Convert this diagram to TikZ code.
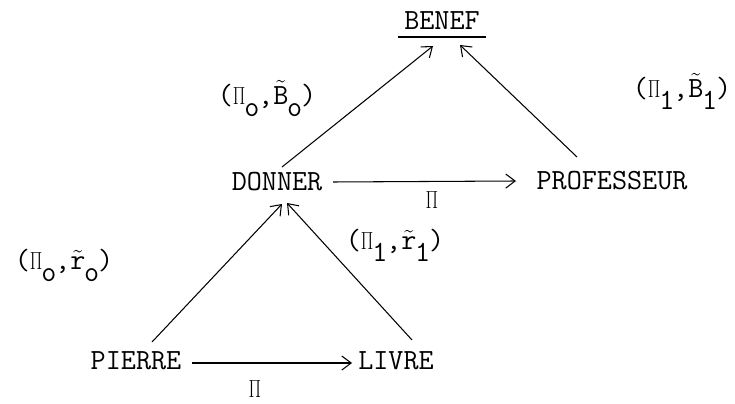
\documentclass[tikz,border=0pt]{standalone}
\usepackage{graphicx}
\usetikzlibrary{arrows.meta,positioning}
\newcommand{\lo}[1]{\kern-1pt\raisebox{-0.4em}{#1}\kern-1pt}
\newcommand{\PI}{\scalebox{0.62}[0.85]{$\Pi$}}
\newcommand{\tld}[1]{$\tilde{\hbox{#1}}$}

\begin{document}
\begin{tikzpicture}[x=0.03cm, y=-0.03cm, >={Straight Barb[length=8pt,width=12pt]}, line width=0.9pt,
  font=\ttfamily\fontsize{25}{28}\selectfont, inner sep=2pt]
\useasboundingbox (0,0) rectangle (735,404);
% words
\node (BENEF) at (442,21) {BENEF};
\node (DONNER) at (277,182) {DONNER};
\node (PROF) at (612,181) {PROFESSEUR};
\node (PIERRE) at (136,361) {PIERRE};
\node (LIVRE) at (396,361) {LIVRE};
\draw ([shift={(-44,16)}]BENEF.center) -- ([shift={(44,16)}]BENEF.center);
% labels
\node (Pa) at (432,200) {\PI};
\node (Pb) at (255,389) {\PI};
\node[anchor=base west] (lBo) at (215,105) {(\PI\lo{o},\tld{B}\lo{o})};
\node[anchor=base west] (lB1) at (630,98) {(\PI\lo{1},\tld{B}\lo{1})};
\node[anchor=base west] (lro) at (12,270) {(\PI\lo{o},\tld{r}\lo{o})};
\node[anchor=base west] (lr1) at (343,250) {(\PI\lo{1},\tld{r}\lo{1})};
% arrows
\draw[->] ([shift={(5,-15)}]DONNER.center) -- ([shift={(-9,25)}]BENEF.center);
\draw[->] ([shift={(-35,-24)}]PROF.center) -- ([shift={(18,24)}]BENEF.center);
\draw[->] ([shift={(56,0)}]DONNER.center) -- ([shift={(-96,0)}]PROF.center);
\draw[->] ([shift={(56,2)}]PIERRE.center) -- ([shift={(-44,2)}]LIVRE.center);
\draw[->] ([shift={(16,-19)}]PIERRE.center) -- ([shift={(5,22)}]DONNER.center);
\draw[->] ([shift={(16,-21)}]LIVRE.center) -- ([shift={(10,21)}]DONNER.center);
\end{tikzpicture}
\end{document}
